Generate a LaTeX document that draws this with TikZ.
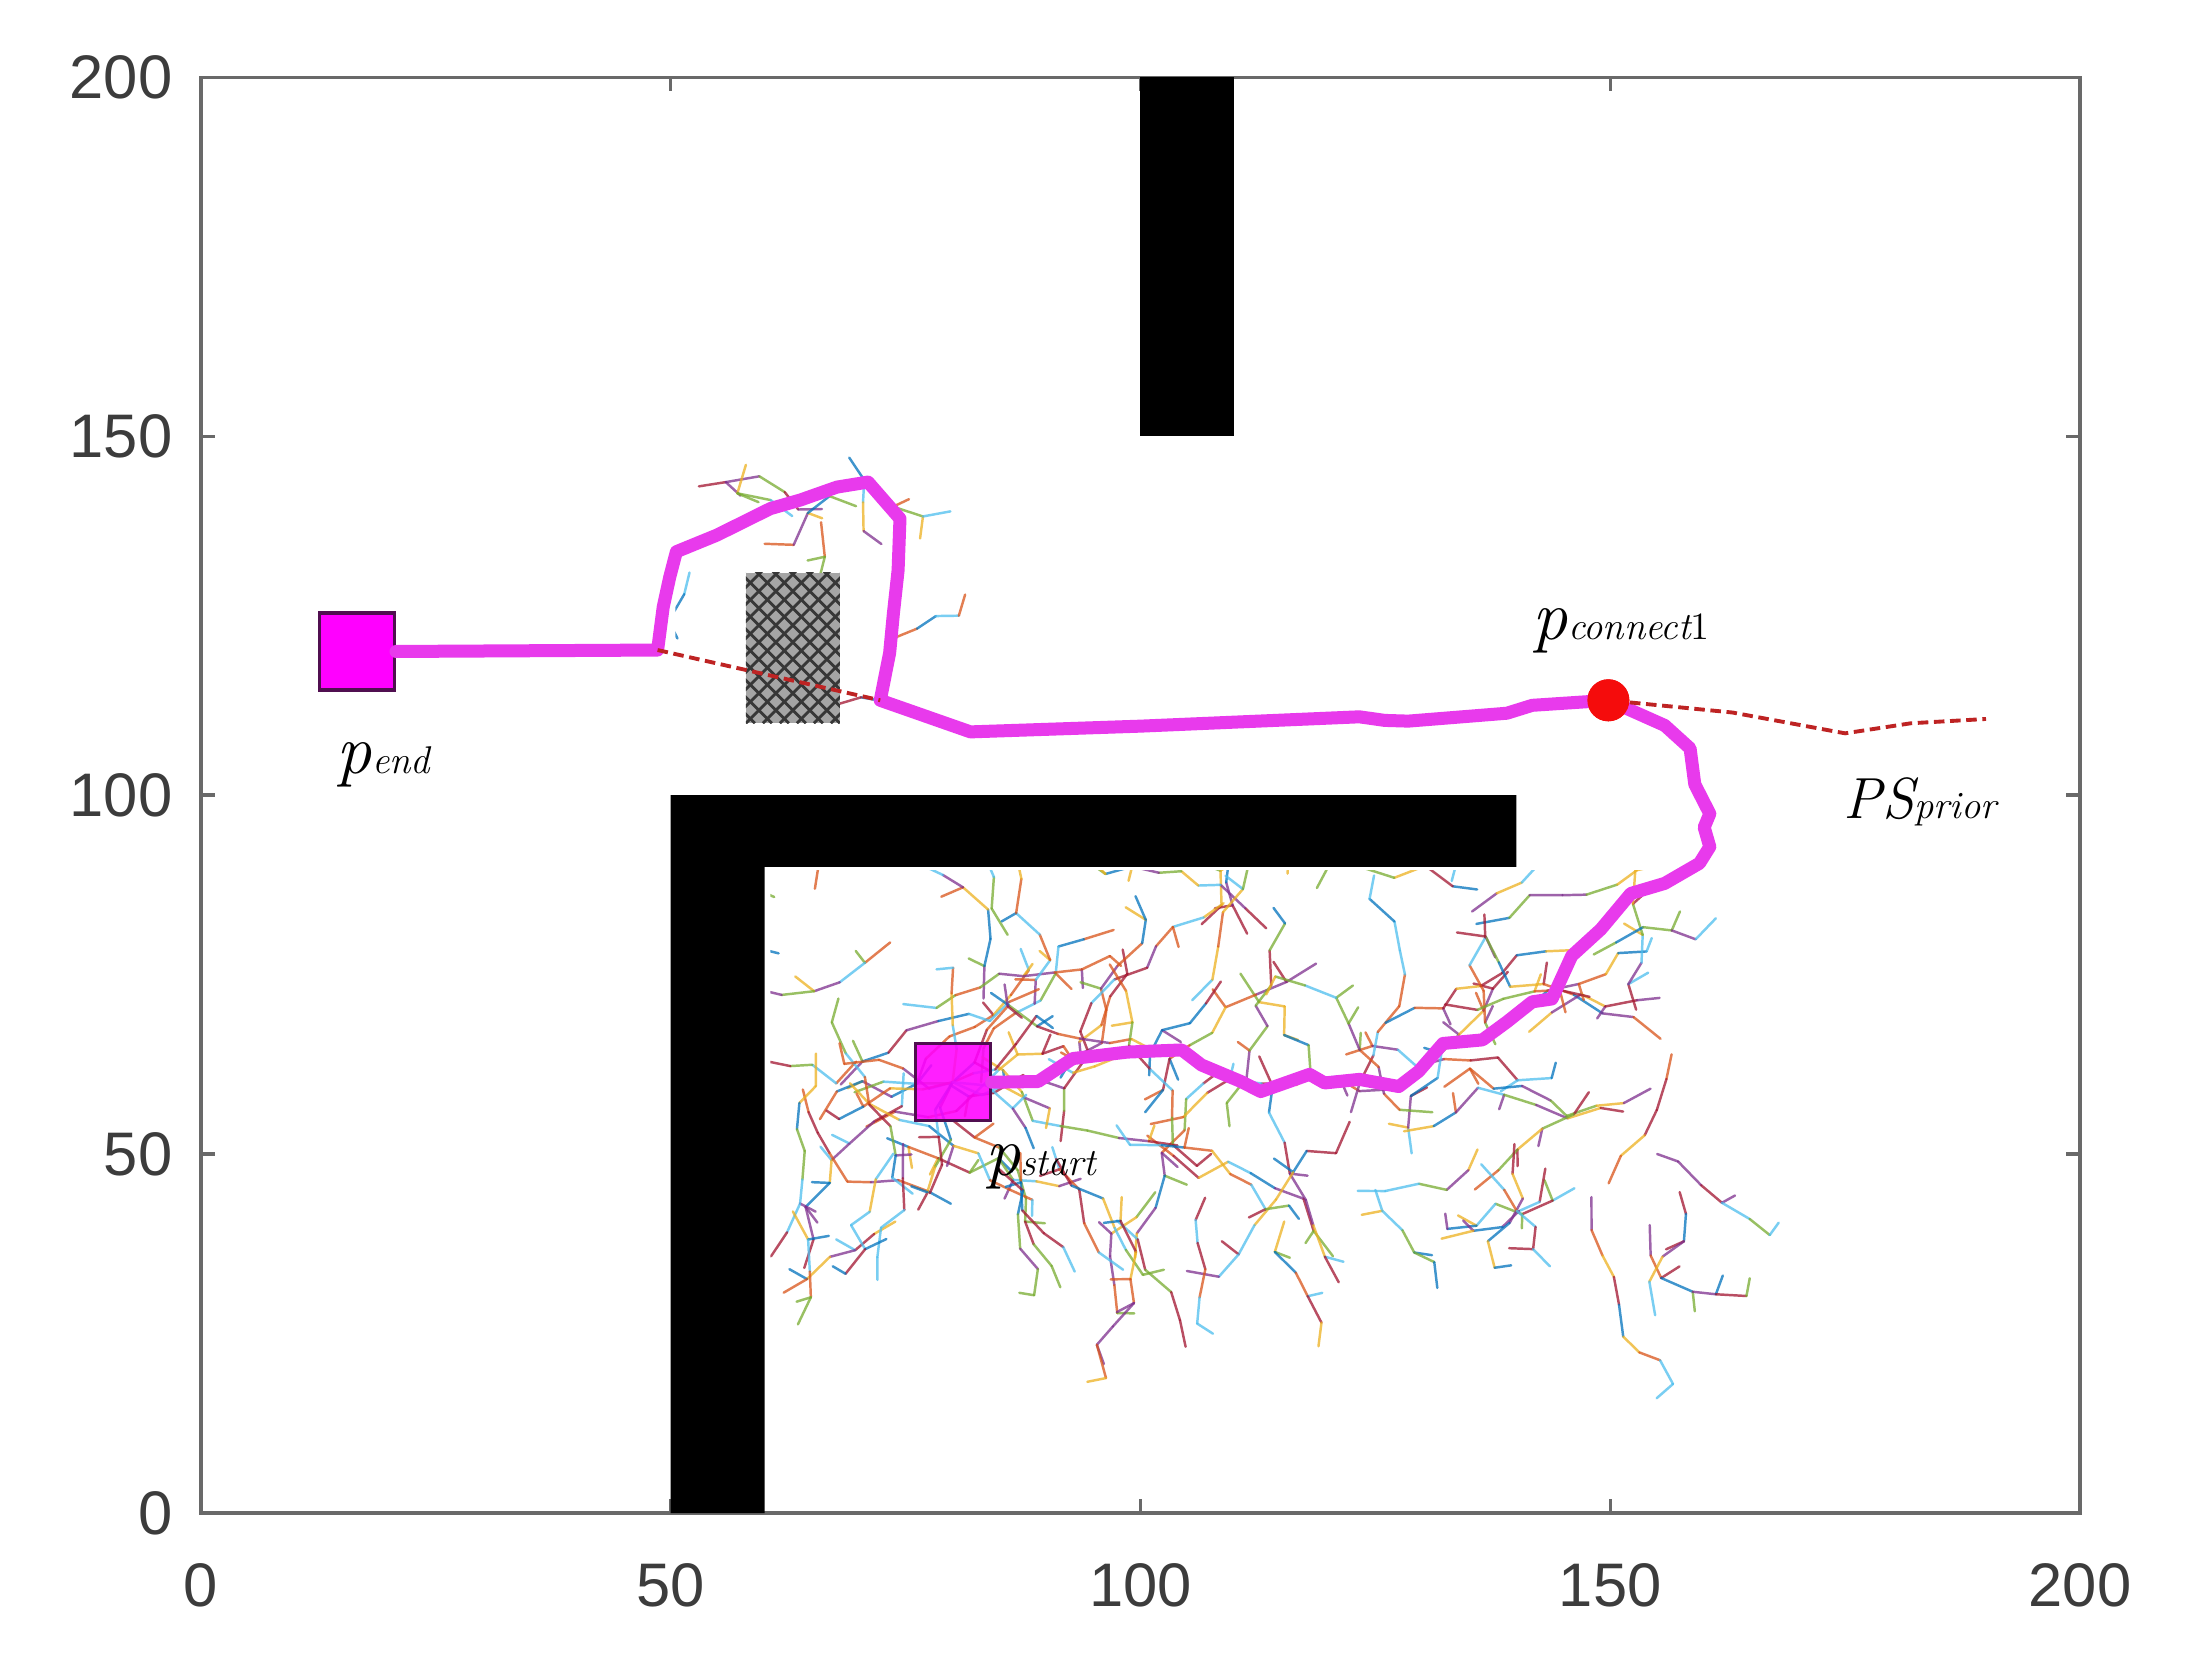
\documentclass[tikz,border=0pt]{standalone}
\usepackage{fontspec}
\newfontfamily\tickfont{Liberation Sans}
\definecolor{magline}{RGB}{232,58,236}
\definecolor{magfill}{RGB}{255,0,255}
\definecolor{magedge}{RGB}{80,15,80}
\definecolor{dashred}{RGB}{190,35,35}
\definecolor{dotred}{RGB}{245,12,12}
\definecolor{axgray}{RGB}{105,105,105}
\definecolor{ticktext}{RGB}{60,60,60}
\definecolor{hatchgray}{RGB}{165,165,165}
\definecolor{hatchdark}{RGB}{55,55,55}
\definecolor{tc1}{RGB}{0,114,189}
\definecolor{tc2}{RGB}{217,83,25}
\definecolor{tc3}{RGB}{237,177,32}
\definecolor{tc4}{RGB}{126,47,142}
\definecolor{tc5}{RGB}{119,172,48}
\definecolor{tc6}{RGB}{77,190,238}
\definecolor{tc7}{RGB}{162,20,47}
\tikzset{
  treeline/.style={line width=0.7pt, opacity=0.75, line cap=round},
  tc1/.style={draw=tc1}, tc2/.style={draw=tc2}, tc3/.style={draw=tc3},
  tc4/.style={draw=tc4}, tc5/.style={draw=tc5}, tc6/.style={draw=tc6},
  tc7/.style={draw=tc7},
  obstacle/.style={fill=black},
  pathline/.style={draw=magline, line width=3.7pt, line join=round, line cap=round},
  priorline/.style={draw=dashred, line width=1.1pt, dash pattern=on 3pt off 1.6pt},
  squarept/.style={draw=magedge, line width=0.9pt, fill=magfill, minimum width=0.75cm, minimum height=0.77cm, inner sep=0},
  connpt/.style={circle, fill=dotred, minimum size=0.42cm, inner sep=0},
  ticklab/.style={font=\tickfont\fontsize{17.5}{21}\selectfont, text=ticktext, inner sep=0},
  lbl/.style={inner sep=0, anchor=base west},
  axisframe/.style={draw=axgray, line width=0.9pt},
  hatch/.style={draw=hatchdark, line width=0.8pt}
}
\newcommand\lbig{\fontsize{20}{24}\selectfont\itshape}
\newcommand\lmid{\fontsize{16.5}{20}\selectfont\itshape}
\newcommand\lsmall{\fontsize{11}{13}\selectfont\itshape}
\newcommand\rrwalk[4]{%
  \xdef\rrwx{#1}\xdef\rrwy{#2}\xdef\rrwh{#4}%
  \foreach \rrj in {1,...,#3}{%
    \pgfmathsetmacro\rrb{\rrwh+15*rand}%
    \pgfmathsetmacro\rrh{\rrb+42*rand}%
    \pgfmathsetmacro\rrl{0.22+0.13*rnd}%
    \pgfmathsetmacro\rrx{\rrwx+\rrl*cos(\rrh)/0.09395}%
    \pgfmathsetmacro\rry{\rrwy+\rrl*sin(\rrh)/0.0718}%
    \pgfmathtruncatemacro\rrc{random(1,7)}%
    \draw[treeline,tc\rrc] (\rrwx,\rrwy) -- (\rrx,\rry);%
    \pgfmathsetmacro\rrs{rnd}%
    \ifdim\rrs pt<0.3pt
      \pgfmathsetmacro\rrsh{\rrh+(rnd<0.5?1:-1)*(50+50*rnd)}%
      \pgfmathsetmacro\rrsl{0.14+0.1*rnd}%
      \pgfmathtruncatemacro\rrsc{random(1,7)}%
      \draw[treeline,tc\rrsc] (\rrx,\rry) -- ++(\rrsh:\rrsl cm);%
    \fi
    \xdef\rrwx{\rrx}\xdef\rrwy{\rry}\xdef\rrwh{\rrb}%
  }%
}
\begin{document}
\begin{tikzpicture}
\useasboundingbox (0,0) rectangle (21.93,16.59);
\fill[white] (0,0) rectangle (21.93,16.59);
\begin{scope}[shift={(2.01,1.46)}, x=0.09395cm, y=0.0718cm]
  \pgfmathsetseed{4242}
  % ---- RRT trees below the L obstacle
  \begin{scope}
    \clip (60.6,1) rectangle (198,89.5);
    \foreach \k in {1,...,54}{%
      \pgfmathsetmacro\rrsx{61+76*rnd}%
      \pgfmathsetmacro\rrsy{50+39*rnd}%
      \pgfmathsetmacro\rrsd{360*rnd}%
      \rrwalk{\rrsx}{\rrsy}{8}{\rrsd}%
    }
    \foreach \k in {1,...,10}{%
      \pgfmathsetmacro\rrsx{128+30*rnd}%
      \pgfmathsetmacro\rrsy{40+40*rnd}%
      \pgfmathsetmacro\rrsd{360*rnd}%
      \rrwalk{\rrsx}{\rrsy}{5}{\rrsd}%
    }
    \foreach \k in {1,...,16}{%
      \pgfmathsetmacro\rrsx{64+94*rnd}%
      \pgfmathsetmacro\rrsy{38+14*rnd}%
      \pgfmathsetmacro\rrsd{235+70*rnd}%
      \rrwalk{\rrsx}{\rrsy}{5}{\rrsd}%
    }
    \foreach \a in {0,40,...,320}{\rrwalk{80}{60}{4}{\a}}
    \rrwalk{98}{44}{7}{280}
    \rrwalk{148}{44}{8}{305}
    \rrwalk{63}{42}{4}{265}
    \rrwalk{155}{50}{5}{320}
    \rrwalk{125}{45}{5}{300}
  \end{scope}
  % ---- small trees near the gray obstacle
  \begin{scope}
    \clip (50.5,100.5) rectangle (100,199);
    \rrwalk{53}{143}{4}{0}
    \rrwalk{58}{146}{3}{300}
    \rrwalk{69}{147}{3}{280}
    \rrwalk{71}{143}{3}{0}
    \rrwalk{60}{135}{4}{20}
    \rrwalk{66}{138}{3}{250}
    \rrwalk{74}{122}{3}{10}
    \rrwalk{52}{131}{3}{270}
    \rrwalk{73}{113}{2}{200}
  \end{scope}
  % ---- axes frame and ticks
  \draw[axisframe] (0,0) rectangle (200,200);
  \foreach \v in {50,100,150}{%
    \draw[axisframe] (\v,0) -- ++(0,0.14cm);
    \draw[axisframe] (\v,200) -- ++(0,-0.14cm);
    \draw[axisframe] (0,\v) -- ++(0.14cm,0);
    \draw[axisframe] (200,\v) -- ++(-0.14cm,0);
  }
  \foreach \v in {0,50,100,150,200}{%
    \node[ticklab, yshift=-0.72cm] (xl\v) at (\v,0) {\v};
    \node[ticklab, anchor=east, xshift=-0.28cm] (yl\v) at (0,\v) {\v};
  }
  % ---- obstacles
  \fill[obstacle] (100,150) rectangle (110,200);
  \fill[obstacle] (50,0) -- (50,100) -- (140,100) -- (140,90) -- (60,90) -- (60,0) -- cycle;
  \fill[hatchgray] (58,110) rectangle (68,131);
  \begin{scope}
    \clip (58,110) rectangle (68,131);
    \foreach \t in {-14,...,12}{%
      \draw[hatch] ([xshift=\t*0.17cm]58,110) -- ++(3cm,3cm);
      \draw[hatch] ([xshift=\t*0.17cm]68,110) -- ++(-3cm,3cm);
    }
  \end{scope}
  % ---- key points
  \node[squarept] (pend) at (16.6,120) {};
  \node[connpt] (pc) at (149.8,113.2) {};
  \coordinate (j1) at (48.6,120.2);
  \coordinate (j2) at (72.3,113.2);
  \coordinate (pe) at (190,110.6);
  % ---- planned path
  \draw[pathline] (pend.east) -- (j1) -- (49.2,126.2) -- (49.9,130.4) -- (50.6,133.9)
    -- (54.9,136.2) -- (60.6,139.9) -- (63.8,141.1) -- (67.7,142.9) -- (71,143.6)
    -- (74.4,138.5) -- (74.2,131.3) -- (73.7,125.3) -- (73.3,119.8) -- (j2)
    -- (81.9,108.8) -- (100,109.6) -- (123.3,110.9) -- (126,110.4) -- (128.5,110.3)
    -- (139,111.4) -- (141.7,112.5) -- (pc.center);
  \node[squarept, fill opacity=0.88] (pstart) at (80,60) {};
  \draw[pathline] (pc.center) -- (155.8,109.7) -- (158.5,106.5) -- (159,101.5) -- (160.6,97.4)
    -- (160,95.5) -- (160.6,92.8) -- (159.5,90.5) -- (155.8,87.7) -- (152.2,86.3)
    -- (149,81.3) -- (145.9,77.6) -- (143.8,71.6) -- (141.7,71.2) -- (139,68.4)
    -- (136.4,65.9) -- (132.2,65.4) -- (129.6,61.5) -- (127.5,59.4) -- (123.3,60.4)
    -- (119.6,59.9) -- (118,61.1) -- (112.8,58.7) -- (110.7,60.1) -- (106.5,62.4)
    -- (104.4,64.5) -- (98.6,64.2) -- (92.8,63.3) -- (89.1,60.1) -- (pstart.east);
  % ---- prior path (dashed)
  \draw[priorline] (j1) -- (j2);
  \draw[priorline] (pc) -- (163,111.5) -- (175,108.6) -- (182,110) -- (pe);
  \node[connpt] (pc2) at (pc) {};
  % ---- labels
  \node[lbl] (lend) at (14.4,103) {\lbig p\lsmall end};
  \node[lbl] (lstart) at (83.4,47) {\lbig p\lsmall start};
  \node[lbl] (lconn) at (141.7,121.6) {\lbig p\lsmall connect\upshape 1};
  \node[lbl] (lprior) at (174.8,96.8) {\lmid PS\lsmall prior};
\end{scope}
\end{tikzpicture}
\end{document}
